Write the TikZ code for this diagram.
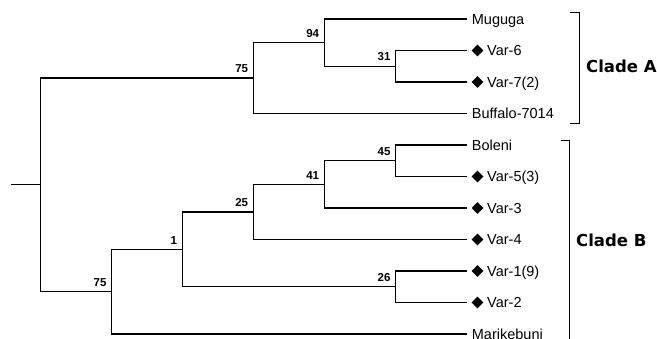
\documentclass[tikz,border=0pt]{standalone}
\usepackage{fontspec}
\setmainfont{Liberation Sans}
\newfontfamily\cladefont{DejaVu Sans}
\usetikzlibrary{shapes.geometric}
\begin{document}
\begin{tikzpicture}[x=1pt,y=-1pt,
  branch/.style={line width=1.2pt},
  brk/.style={line width=1.1pt},
  leaf/.style={anchor=base west, inner sep=0pt, font=\fontsize{14.5}{17}\selectfont},
  boot/.style={anchor=south east, inner sep=0pt, font=\fontsize{11.5}{13}\selectfont\bfseries},
  clade/.style={anchor=west, inner sep=0pt, font=\fontsize{16.5}{19}\selectfont\cladefont\bfseries},
  dia/.style={diamond, fill=black, inner sep=0pt, minimum width=12pt, minimum height=12pt}]
\useasboundingbox (0,0) rectangle (657,338);
% internal nodes
\coordinate (stub) at (11,184.85);
\coordinate (root) at (40.7,184.85);
\coordinate (n75a) at (253.3,78);
\coordinate (n94) at (324.3,42.6);
\coordinate (n31) at (395.7,66.25);
\coordinate (n75b) at (111.7,291.7);
\coordinate (n1) at (182.3,249.4);
\coordinate (n25) at (253.3,212);
\coordinate (n41) at (324.3,184.4);
\coordinate (n45) at (395.7,160.75);
\coordinate (n26) at (395.7,286.75);
% leaf ends
\coordinate (lMuguga) at (466.7,19);
\coordinate (lVar6) at (466.7,50.5);
\coordinate (lVar7) at (466.7,82);
\coordinate (lBuffalo) at (466.7,113.5);
\coordinate (lBoleni) at (466.7,145);
\coordinate (lVar5) at (466.7,176.5);
\coordinate (lVar3) at (466.7,208);
\coordinate (lVar4) at (466.7,239.5);
\coordinate (lVar1) at (466.7,271);
\coordinate (lVar2) at (466.7,302.5);
\coordinate (lMarik) at (466.7,334);
% branches
\draw[branch] (stub) -- (root);
\draw[branch] (root) |- (n75a);
\draw[branch] (root) |- (n75b);
\draw[branch] (n75a) |- (n94);
\draw[branch] (n75a) |- (lBuffalo);
\draw[branch] (n94) |- (lMuguga);
\draw[branch] (n94) |- (n31);
\draw[branch] (n31) |- (lVar6);
\draw[branch] (n31) |- (lVar7);
\draw[branch] (n75b) |- (n1);
\draw[branch] (n75b) |- (lMarik);
\draw[branch] (n1) |- (n25);
\draw[branch] (n1) |- (n26);
\draw[branch] (n25) |- (n41);
\draw[branch] (n25) |- (lVar4);
\draw[branch] (n41) |- (n45);
\draw[branch] (n41) |- (lVar3);
\draw[branch] (n45) |- (lBoleni);
\draw[branch] (n45) |- (lVar5);
\draw[branch] (n26) |- (lVar1);
\draw[branch] (n26) |- (lVar2);
% bootstrap values
\node[boot] (b75a) at ([shift={(-5,-5)}]n75a) {75};
\node[boot] (b94) at ([shift={(-5,-5)}]n94) {94};
\node[boot] (b31) at ([shift={(-5,-5)}]n31) {31};
\node[boot] (b75b) at ([shift={(-5,-5)}]n75b) {75};
\node[boot] (b1) at ([shift={(-5,-5)}]n1) {1};
\node[boot] (b25) at ([shift={(-5,-5)}]n25) {25};
\node[boot] (b41) at ([shift={(-5,-5)}]n41) {41};
\node[boot] (b45) at ([shift={(-5,-5)}]n45) {45};
\node[boot] (b26) at ([shift={(-5,-5)}]n26) {26};
% leaf labels
\node[leaf] (tMuguga) at (471.7,24) {Muguga};
\node[leaf] (tBuffalo) at (471.7,118.5) {Buffalo-7014};
\node[leaf] (tBoleni) at (471.7,150) {Boleni};
\node[leaf] (tMarik) at (471.7,339) {Marikebuni};
\node[dia] (dVar6) at (477.5,50.5) {};
\node[leaf] (tVar6) at (487,55.5) {Var-6};
\node[dia] (dVar7) at (477.5,82) {};
\node[leaf] (tVar7) at (487,87) {Var-7(2)};
\node[dia] (dVar5) at (477.5,176.5) {};
\node[leaf] (tVar5) at (487,181.5) {Var-5(3)};
\node[dia] (dVar3) at (477.5,208) {};
\node[leaf] (tVar3) at (487,213) {Var-3};
\node[dia] (dVar4) at (477.5,239.5) {};
\node[leaf] (tVar4) at (487,244.5) {Var-4};
\node[dia] (dVar1) at (477.5,271) {};
\node[leaf] (tVar1) at (487,276) {Var-1(9)};
\node[dia] (dVar2) at (477.5,302.5) {};
\node[leaf] (tVar2) at (487,307.5) {Var-2};
% clade brackets
\coordinate (aT0) at (570,12.3);
\coordinate (aT1) at (579.3,12.3);
\coordinate (aB1) at (579.3,123.3);
\coordinate (aB0) at (570,123.3);
\draw[brk] (aT0) -- (aT1) -- (aB1) -- (aB0);
\coordinate (bT0) at (560.5,140.7);
\coordinate (bT1) at (569.5,140.7);
\coordinate (bB1) at (569.5,350);
\draw[brk] (bT0) -- (bT1) -- (bB1);
\node[clade] (cA) at (586,66) {Clade A};
\node[clade] (cB) at (576,240) {Clade B};
\end{tikzpicture}
\end{document}
